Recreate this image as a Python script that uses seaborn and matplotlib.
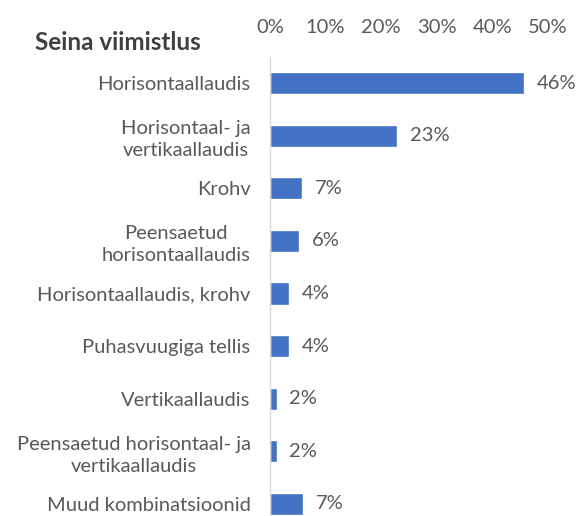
import pandas as pd
import seaborn as sns
import matplotlib.pyplot as plt

# Data (bar lengths, labels as printed)
categories = [
    'Horisontaallaudis',
    'Horisontaal- ja\nvertikaallaudis',
    'Krohv',
    'Peensaetud\nhorisontaallaudis',
    'Horisontaallaudis, krohv',
    'Puhasvuugiga tellis',
    'Vertikaallaudis',
    'Peensaetud horisontaal- ja\nvertikaallaudis',
    'Muud kombinatsioonid',
]
shares = [45.6, 22.8, 5.8, 5.3, 3.5, 3.5, 1.2, 1.2, 6.0]
value_labels = ['46%', '23%', '7%', '6%', '4%', '4%', '2%', '2%', '7%']
x_ticks = [0, 10, 20, 30, 40, 50]

df = pd.DataFrame({'category': categories, 'share': shares})

sns.set_theme(style='white')
plt.rcParams['font.family'] = ['Lato', 'DejaVu Sans']

grey = '#595959'
fig = plt.figure(figsize=(5.8, 5.16), dpi=100)
# axes runs below the bottom edge, the reference is cropped there
ax = fig.add_axes([270 / 580, 1 - 530 / 516, (548 - 270) / 580, (530 - 57) / 516])

sns.barplot(data=df, x='share', y='category', orient='h', color='#4472C4',
            width=0.42, saturation=1, ax=ax)

for i, (v, lab) in enumerate(zip(shares, value_labels)):
    ax.text(v + 2.3, i, lab, va='center', ha='left', fontsize=14.5, color=grey)

ax.set_xlim(0, 50)
ax.set_ylim(len(categories) - 0.5, -0.5)
ax.set_xticks(x_ticks)
ax.set_xticklabels([f'{t}%' for t in x_ticks])
ax.xaxis.tick_top()
ax.tick_params(axis='x', length=0, labelsize=14.5, labelcolor=grey, pad=15)
ax.tick_params(axis='y', length=0, labelsize=14.5, labelcolor=grey, pad=14)
for lab in ax.get_yticklabels():
    lab.set_multialignment('center')
    lab.set_linespacing(1.35)
ax.set_xlabel('')
ax.set_ylabel('')
for side in ['top', 'right', 'bottom']:
    ax.spines[side].set_visible(False)
ax.spines['left'].set_color('#d9d9d9')
ax.spines['left'].set_linewidth(1)

fig.text(35 / 580, 1 - 42 / 516, 'Seina viimistlus', fontsize=17.5, fontweight='bold',
         color='#404040', va='center', ha='left')

fig.savefig('out.png', dpi=100)
